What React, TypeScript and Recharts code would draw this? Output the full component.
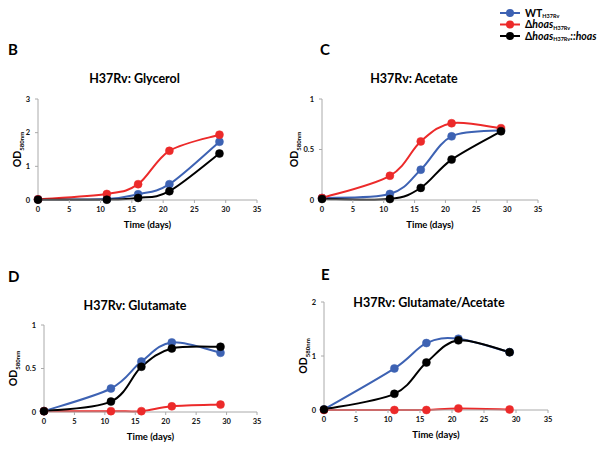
import React from 'react';
import { LineChart, Line, XAxis, YAxis } from 'recharts';

// ---- data ----
const days = [0, 11, 16, 21, 29];
const xTicks = [0, 5, 10, 15, 20, 25, 30, 35];

const glycerolWT = [0.02, 0.03, 0.17, 0.47, 1.73];
const glycerolDelta = [0.02, 0.18, 0.47, 1.46, 1.94];
const glycerolComp = [0.01, 0.01, 0.06, 0.26, 1.38];

const acetateWT = [0.02, 0.06, 0.3, 0.63, 0.69];
const acetateDelta = [0.02, 0.24, 0.58, 0.76, 0.71];
const acetateComp = [0.01, 0.01, 0.12, 0.4, 0.68];

const glutamateWT = [0.01, 0.27, 0.58, 0.8, 0.68];
const glutamateDelta = [0.01, 0.01, 0.01, 0.065, 0.085];
const glutamateComp = [0.01, 0.12, 0.52, 0.73, 0.75];

const glutAcWT = [0.01, 0.77, 1.24, 1.32, 1.07];
const glutAcDelta = [0.0, 0.0, 0.0, 0.03, 0.01];
const glutAcComp = [0.01, 0.3, 0.88, 1.29, 1.07];

const BLUE = '#3d62b3';
const RED = '#ec2a2a';
const BLACK = '#000000';
const FONT = 'Lato, "Open Sans", sans-serif';

// Excel-like smoothed line (Catmull-Rom bezier)
function excelCurve(context: any) {
  let pts: number[][] = [];
  return {
    areaStart() {},
    areaEnd() {},
    lineStart() {
      pts = [];
    },
    lineEnd() {
      const n = pts.length;
      if (!n) return;
      context.moveTo(pts[0][0], pts[0][1]);
      for (let i = 0; i < n - 1; i++) {
        const p0 = pts[i - 1] || pts[i];
        const p1 = pts[i];
        const p2 = pts[i + 1];
        const p3 = pts[i + 2] || p2;
        context.bezierCurveTo(
          p1[0] + (p2[0] - p0[0]) / 6,
          p1[1] + (p2[1] - p0[1]) / 6,
          p2[0] - (p3[0] - p1[0]) / 6,
          p2[1] - (p3[1] - p1[1]) / 6,
          p2[0],
          p2[1]
        );
      }
    },
    point(x: number, y: number) {
      pts.push([+x, +y]);
    },
  };
}

type PanelCfg = {
  letter: string;
  lx: number;
  ly: number;
  title: string;
  tx: number;
  ty: number;
  l: number;
  r: number;
  t: number;
  b: number;
  odx: number;
  yDomain: number[];
  yTicks: number[];
  wt: number[];
  delta: number[];
  comp: number[];
};

const panels: PanelCfg[] = [
  { letter: 'B', lx: 8, ly: 55, title: 'H37Rv: Glycerol', tx: 134.5, ty: 83, l: 38, r: 257, t: 99, b: 200, odx: 21, yDomain: [0, 3], yTicks: [0, 1, 2, 3], wt: glycerolWT, delta: glycerolDelta, comp: glycerolComp },
  { letter: 'C', lx: 320, ly: 55, title: 'H37Rv: Acetate', tx: 414, ty: 83, l: 322, r: 538, t: 99, b: 200, odx: 298, yDomain: [0, 1], yTicks: [0, 0.5, 1], wt: acetateWT, delta: acetateDelta, comp: acetateComp },
  { letter: 'D', lx: 8, ly: 282, title: 'H37Rv: Glutamate', tx: 135, ty: 310, l: 44, r: 257, t: 325, b: 412, odx: 17, yDomain: [0, 1], yTicks: [0, 0.5, 1], wt: glutamateWT, delta: glutamateDelta, comp: glutamateComp },
  { letter: 'E', lx: 321, ly: 280, title: 'H37Rv: Glutamate/Acetate', tx: 429, ty: 307, l: 324, r: 548, t: 302, b: 410, odx: 307, yDomain: [0, 2], yTicks: [0, 1, 2], wt: glutAcWT, delta: glutAcDelta, comp: glutAcComp },
];

const tickStyle = { fontSize: 7.5, fontWeight: 700, fill: '#111', fontFamily: FONT };

function Panel({ p }: { p: PanelCfg }) {
  const data = days.map((d, i) => ({ day: d, wt: p.wt[i], delta: p.delta[i], comp: p.comp[i] }));
  const ML = 40, MT = 10, MR = 12, MB = 30;
  const w = p.r - p.l + ML + MR;
  const h = p.b - p.t + MT + MB;
  const dot = (c: string) => ({ r: 4, fill: c, stroke: c, strokeWidth: 0.5 });
  return (
    <div style={{ position: 'absolute', left: p.l - ML, top: p.t - MT }}>
      <LineChart width={w} height={h} data={data} margin={{ top: MT, right: MR, bottom: 0, left: 0 }}>
        <XAxis
          dataKey="day"
          type="number"
          domain={[0, 35]}
          ticks={xTicks}
          height={MB}
          axisLine={{ stroke: '#aaa' }}
          tickLine={{ stroke: '#aaa' }}
          tickSize={3}
          tickMargin={4}
          tick={tickStyle}
          interval={0}
        />
        <YAxis
          type="number"
          domain={p.yDomain}
          ticks={p.yTicks}
          width={ML}
          axisLine={{ stroke: '#aaa' }}
          tickLine={{ stroke: '#aaa' }}
          tickSize={3}
          tickMargin={5}
          tick={tickStyle}
          interval={0}
        />
        <Line dataKey="wt" stroke={BLUE} strokeWidth={2} type={excelCurve as any} dot={dot(BLUE)} isAnimationActive={false} />
        <Line dataKey="delta" stroke={RED} strokeWidth={2} type={excelCurve as any} dot={dot(RED)} isAnimationActive={false} />
        <Line dataKey="comp" stroke={BLACK} strokeWidth={2} type={excelCurve as any} dot={dot(BLACK)} isAnimationActive={false} />
      </LineChart>
    </div>
  );
}

function Texts() {
  return (
    <svg width={609} height={453} style={{ position: 'absolute', left: 0, top: 0, pointerEvents: 'none' }} fontFamily={FONT}>
      {panels.map((p) => {
        const cy = (p.t + p.b) / 2;
        return (
          <g key={p.letter}>
            <text x={p.lx} y={p.ly} fontSize={15} fontWeight={700} fill="#000">{p.letter}</text>
            <text x={p.tx} y={p.ty} fontSize={12.5} fontWeight={700} fill="#000" textAnchor="middle">{p.title}</text>
            <text x={(p.l + p.r) / 2} y={p.b + 28} fontSize={9.5} fontWeight={700} fill="#000" textAnchor="middle">Time (days)</text>
            <text transform={`translate(${p.odx},${cy}) rotate(-90)`} fontSize={10.5} fontWeight={700} fill="#000" textAnchor="middle">
              OD<tspan fontSize={6} dy={2.5}>580nm</tspan>
            </text>
          </g>
        );
      })}
      {[
        { y: 13, c: BLUE, k: 'wt' },
        { y: 24.5, c: RED, k: 'd' },
        { y: 36, c: BLACK, k: 'c' },
      ].map((r) => (
        <g key={r.k}>
          <line x1={500} x2={520} y1={r.y} y2={r.y} stroke={r.c} strokeWidth={2} />
          <circle cx={510} cy={r.y} r={4} fill={r.c} />
        </g>
      ))}
      <text x={525} y={16.5} fontSize={10.5} fontWeight={700} fill="#000">
        WT<tspan fontSize={5.5} dy={1.5}>H37Rv</tspan>
      </text>
      <text x={525} y={28} fontSize={10.5} fontWeight={700} fill="#000">
        Δ<tspan fontStyle="italic">hoas</tspan><tspan fontSize={5.5} dy={1.5}>H37Rv</tspan>
      </text>
      <text x={525} y={39.5} fontSize={10.5} fontWeight={700} fill="#000">
        Δ<tspan fontStyle="italic">hoas</tspan><tspan fontSize={5.5} dy={1.5}>H37Rv</tspan><tspan dy={-1.5} fontStyle="italic">::hoas</tspan>
      </text>
    </svg>
  );
}

export default function App() {
  return (
    <div style={{ position: 'absolute', left: 0, top: 0, width: 609, height: 453, background: '#fff', overflow: 'hidden', fontFamily: FONT }}>
      {panels.map((p) => (
        <Panel key={p.letter} p={p} />
      ))}
      <Texts />
    </div>
  );
}
